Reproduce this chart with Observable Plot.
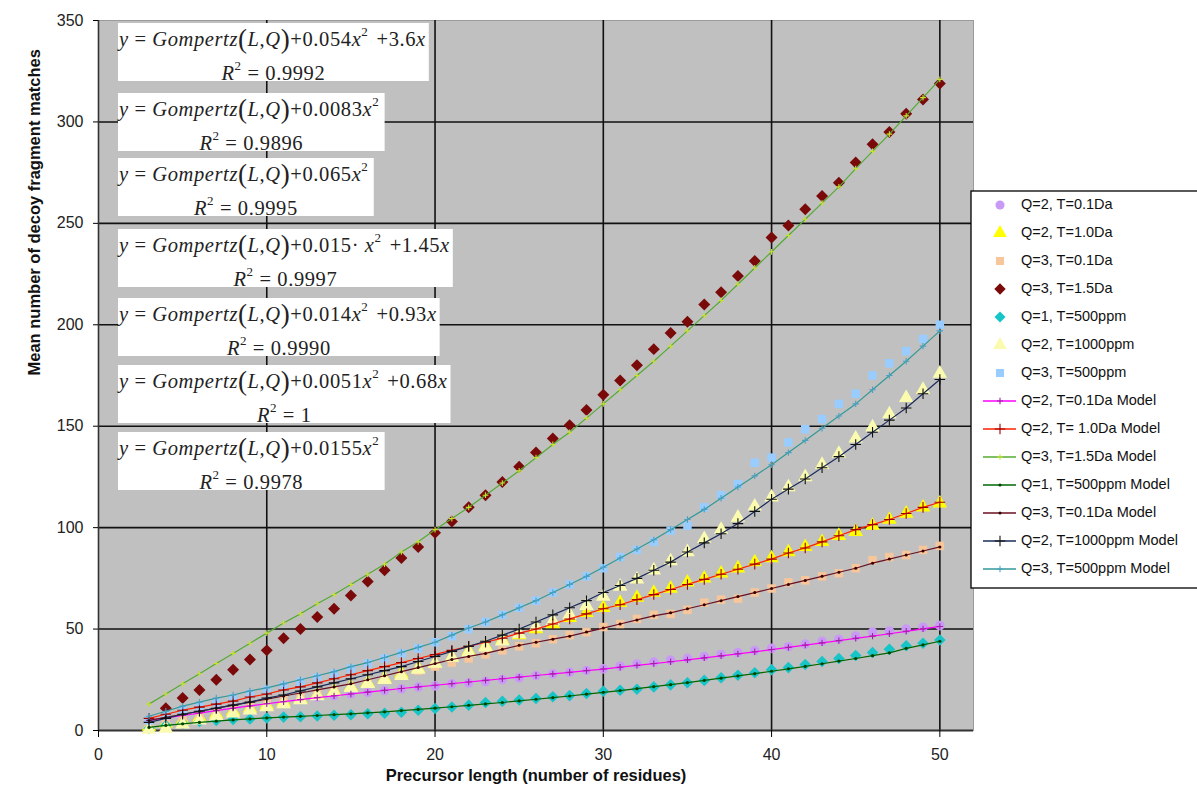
<!DOCTYPE html>
<html><head><meta charset="utf-8">
<script src="https://cdn.jsdelivr.net/npm/d3@7"></script>
<script src="https://cdn.jsdelivr.net/npm/@observablehq/plot@0.6"></script>
<style>
body{margin:0;background:#fff;}
#chart{position:relative;width:1197px;height:793px;overflow:hidden;}
</style>
</head><body><div id="chart"></div>
<script>
// ---------- DATA ----------
const lengths = [3,4,5,6,7,8,9,10,11,12,13,14,15,16,17,18,19,20,21,22,23,24,25,26,27,28,29,30,31,32,33,34,35,36,37,38,39,40,41,42,43,44,45,46,47,48,49,50];
const xTicks = [0,10,20,30,40,50];
const yTicks = [0,50,100,150,200,250,300,350];

// observed series (markers)
const obsQ2T01Da = [4,5.5,7,8.3,9.6,11,12.3,13.5,14.6,15.6,16.4,17.2,18.1,18.8,19.7,20.5,21.4,22,23,23.4,24.1,25.1,26,27.1,27.9,28.7,29.6,30.4,31.7,32.8,33.7,34.7,35.6,36.5,37.5,38.4,39.4,40.5,41.3,42.6,44,45,46.5,48.5,49,50,50.9,51.7];
const obsQ2T10Da = [2,3.5,5,6.5,8,9.5,11,12.5,14,15.5,17.5,19.5,21.5,23.5,25.5,28,30.5,33,36,39,41.5,44.5,47,50,52.5,55.5,58,60.5,63,65.5,68,70,73,75,77.5,80,83,85,88,90.5,93,96,98,101,104,107,110,112];
const obsQ3T01Da = [3,4.5,6,7.5,9,10.5,12,13.5,15,16.5,18,19.5,21,23,25,27,29.5,31.5,33.5,35.5,37.5,39.5,41.5,43,45,47,48.5,51,52.5,55,57,57.5,59.5,63,64.5,65,68,70,73,74,76,77.5,80,84,85.5,86.5,89,91];
const obsQ3T15Da = [null,11,16,20,25,30,35,39.5,45.5,50,56,60,66.5,73.5,79,85,90.5,97.5,103,110,116,122.5,130,137,144,150.5,158,165.5,172.5,180,188,196,201.5,210,216,224,231.5,243,249,257,263.5,270,280,289,295,304,311,319];
const obsQ1T500ppm = [1,2.5,3.5,4.5,5,5.4,5.7,6.2,6.6,6.8,7.1,7.5,7.8,8.3,8.5,9,10,10.8,11.6,12.5,13.8,14.4,15,15.8,16.6,17.2,18.2,19.3,19.8,20.3,21.5,22.5,23.5,24.7,26,27.2,28.5,30,31,32.5,34,35.5,37,38.5,40,41.8,43,44.6];
const obsQ2T1000ppm = [0.5,1,3,5,7,8.5,10,11.5,13,15,17,19,21,23,25,27,30,33,36,38.5,41,44,47.5,51,54,57,61.5,66,71,74.5,79,83.5,88,94.5,99,105,110.5,115,120,125,131,136.5,144,149.5,156,164,168,176];
const obsQ3T500ppm = [5,7.5,10,12,14,16,18,20,22,24,26,28,30.5,33,35.5,38,40.5,43.5,46.5,50,53.5,57,60.5,64,68,72,76,80,85.5,89,93,98.5,101,110,116,121.5,132,134.5,142,148.5,153.5,161,166,175,181,187,193,200];

// model series (lines)
const modQ2T01Da = [5,6.2,7.4,8.6,9.8,11,12.1,13.2,14.2,15.2,16.2,17.1,18,18.9,19.8,20.7,21.5,22.3,23.1,23.9,24.7,25.5,26.3,27.1,27.9,28.7,29.5,30.3,31.2,32.1,33,33.9,34.8,35.8,36.8,37.8,38.8,39.9,41,42.1,43.2,44.3,45.4,46.5,47.7,48.9,50.1,51.3];
const modQ2T10Da = [6,8,10,11.5,13,14.5,16.5,18,20,21.5,23.5,25.5,27.5,29.5,31.5,33.5,35.5,37.5,39.5,41.5,43.5,45.5,48,50,52.5,55,57.5,60,62,64.5,67,69.5,72,74.5,77,79.5,82,84.5,87.5,90,93,96,99,101.5,104,107,110,112.5];
const modQ3T15Da = [13,18,23,28,33,38,43,48,53,57.5,62.5,67,72,77,82,88,93,99,104.5,110,116,122,128,134.5,141,147,154,161,168,175,182,189.5,197,204.5,212,220,228,236,244,252,260,268,277,285.5,294,303,312,321];
const modQ1T500ppm = [1.5,2.5,3.3,4,4.6,5.2,5.7,6.2,6.6,7,7.4,7.8,8.2,8.7,9.2,9.8,10.4,11,11.7,12.4,13.1,13.8,14.6,15.4,16.2,17,17.9,18.8,19.7,20.6,21.6,22.6,23.6,24.7,25.8,26.9,28,29.2,30.4,31.6,32.9,34.2,35.5,36.9,38.3,40.5,42.2,44];
const modQ3T01Da = [5,6.5,8,9.5,11,12.5,14,15.5,17,18.5,20,21.5,23,25,27,29,31,33,35,36.5,38,40,42,43.5,45,46.5,48.5,50.5,52.5,54.5,56.5,58,60,62,64,66,68,70,72,74,76,78,80,82.5,84.5,86.5,88.5,90.5];
const modQ2T1000ppm = [4,6,8,9.5,11,12.5,14,16,17.5,19.5,21.5,23.5,25.5,27.5,29.5,31.5,34,36.5,39,41.5,44,47,50,53.5,57,60.5,64,68,71.5,75,79,83,88,92.5,97,102,108,114,119,124,129.5,135,141,147,153,159,166,173];
const modQ3T500ppm = [7,9.5,12,14,16,17.5,19.5,21,23,25,27,29,31.5,33.5,36,38.5,41,43.5,47,50.5,53.5,57,60.5,64,68,72,76,80.5,85,89.5,94,99,104,109,114.5,120,125.5,131,137,143,149,155,161,168,175,182,189.5,197];

const obsNames = ["Q=2, T=0.1Da","Q=2, T=1.0Da","Q=3, T=0.1Da","Q=3, T=1.5Da","Q=1, T=500ppm","Q=2, T=1000ppm","Q=3, T=500ppm"];
const modelNames = ["Q=2, T=0.1Da Model","Q=2, T= 1.0Da Model","Q=3, T=1.5Da Model","Q=1, T=500ppm Model","Q=3, T=0.1Da Model","Q=2, T=1000ppm Model","Q=3, T=500ppm Model"];
const obsValues = [obsQ2T01Da,obsQ2T10Da,obsQ3T01Da,obsQ3T15Da,obsQ1T500ppm,obsQ2T1000ppm,obsQ3T500ppm];
const modelValues = [modQ2T01Da,modQ2T10Da,modQ3T15Da,modQ1T500ppm,modQ3T01Da,modQ2T1000ppm,modQ3T500ppm];

// equation annotations
const eqSuffix = ["+0.054x^2 +3.6x","+0.0083x^2","+0.065x^2","+0.015· x^2 +1.45x","+0.014x^2 +0.93x","+0.0051x^2 +0.68x","+0.0155x^2"];
const eqR2 = ["0.9992","0.9896","0.9995","0.9997","0.9990","1","0.9978"];

const xLabel = "Precursor length (number of residues)";
const yLabel = "Mean number of decoy fragment matches";

// ---------- STYLE ----------
const obsStyle = [
  {symbol:"circle",   fill:"#c99af5", r:4.8},
  {symbol:"triangle", fill:"#ffff00", r:5.4},
  {symbol:"square",   fill:"#f7c69a", r:4.8},
  {symbol:"diamond2", fill:"#7a0a0a", r:5.4},
  {symbol:"diamond2", fill:"#17c4c8", r:5.2},
  {symbol:"triangle", fill:"#fbfbb0", r:5.4},
  {symbol:"square",   fill:"#99ccff", r:4.8}
];
const modelStyle = [
  {stroke:"#ff00ff", mark:"plus",  mstroke:"#a020a0", mr:2.2},
  {stroke:"#ff2000", mark:"plus",  mstroke:"#a00000", mr:3.5},
  {stroke:"#55aa33", mark:"plus",  mstroke:"#c8e030", mr:2.0},
  {stroke:"#006600", mark:"circle",mstroke:"#004400", mr:1.6},
  {stroke:"#6a1020", mark:"circle",mstroke:"#300000", mr:1.5},
  {stroke:"#1a2a5a", mark:"plus",  mstroke:"#111111", mr:3.5},
  {stroke:"#339999", mark:"plus",  mstroke:"#4aa0c0", mr:2.2}
];

// ---------- TABLES ----------
function toRows(vals){ return lengths.map((x,i)=>({x, y: vals[i]})).filter(d=>d.y!=null); }
const obsRows = obsValues.map(toRows);
const modelRows = modelValues.map(toRows);

const marks = [
  Plot.frame({fill:"#c0c0c0", stroke:"#9a9a9a"}),
  Plot.ruleX(xTicks.filter(t=>t>0), {stroke:"#111", strokeWidth:1.6}),
  Plot.ruleY(yTicks.filter(t=>t>0 && t<350), {stroke:"#111", strokeWidth:1.6}),
  Plot.ruleX([0], {stroke:"#333", strokeWidth:1.6}),
  Plot.ruleY([0], {stroke:"#333", strokeWidth:1.8}),
  Plot.axisX(xTicks, {tickSize:7, tickPadding:11, fontSize:16, fill:"#222", label:null}),
  Plot.axisY(yTicks, {tickSize:5, tickPadding:10, fontSize:16, fill:"#222", label:null}),
  Plot.text([xLabel], {frameAnchor:"bottom", dy:50, fontSize:16.5, fontWeight:"bold", fill:"#111"}),
  Plot.text([yLabel], {frameAnchor:"left", dx:-64, rotate:-90, fontSize:16.5, fontWeight:"bold", fill:"#111"})
];
obsRows.forEach((rows,i)=>{
  const s = obsStyle[i];
  marks.push(Plot.dot(rows, {x:"x", y:"y", symbol:s.symbol, r:s.r, fill:s.fill, stroke:"none"}));
});
modelRows.forEach((rows,i)=>{
  const s = modelStyle[i];
  marks.push(Plot.line(rows, {x:"x", y:"y", stroke:s.stroke, strokeWidth:1.2}));
  if (s.mark === "plus") marks.push(Plot.dot(rows, {x:"x", y:"y", symbol:"plus", r:s.mr, stroke:s.mstroke, strokeWidth:1.1}));
  else marks.push(Plot.dot(rows, {x:"x", y:"y", r:s.mr, fill:s.mstroke, stroke:"none"}));
});

const chart = Plot.plot({
  width:1197, height:793,
  marginLeft:98, marginRight:224, marginTop:20, marginBottom:63,
  x:{domain:[0,52]},
  y:{domain:[0,350]},
  style:{fontFamily:"'Liberation Sans', Arial, sans-serif", background:"#fff", overflow:"visible"},
  marks
});
document.getElementById("chart").appendChild(chart);

// ---------- ANNOTATIONS (equation boxes) ----------
const svg = d3.select(chart);
const eqLayout = {left:118, tops:[23,93,158,229,298,365,432], height:58, line1:18, line2:52};
const eqG = svg.append("g").attr("font-family","'Liberation Serif','Times New Roman',serif").attr("font-size",20.5).attr("fill","#222").attr("text-anchor","start");
eqSuffix.forEach((suf,i)=>{
  const top = eqLayout.tops[i];
  const g = eqG.append("g");
  const rect = g.append("rect").attr("x",eqLayout.left).attr("y",top).attr("height",eqLayout.height).attr("fill","#fff");
  const t = g.append("text").attr("x",eqLayout.left+1).attr("y",top+eqLayout.line1).attr("dominant-baseline","middle").attr("text-anchor","start").attr("letter-spacing",0.6);
  t.append("tspan").attr("font-style","italic").text("y");
  t.append("tspan").text(" = ");
  t.append("tspan").attr("font-style","italic").text("Gompertz");
  t.append("tspan").attr("font-size",27).attr("dy",1).text("(");
  t.append("tspan").attr("font-style","italic").attr("dy",-1).text("L");
  t.append("tspan").text(",");
  t.append("tspan").attr("font-style","italic").text("Q");
  t.append("tspan").attr("font-size",27).attr("dy",1).text(")");
  let buf = "";
  const parts = [];
  for (let k=0;k<suf.length;k++){
    const c = suf[k];
    if (c==="x"){ if(buf){parts.push({t:buf});buf="";} parts.push({t:"x",it:true}); }
    else if (c==="^"){ if(buf){parts.push({t:buf});buf="";} parts.push({t:suf[k+1],sup:true}); k++; }
    else buf += c;
  }
  if (buf) parts.push({t:buf});
  let first = true;
  parts.forEach(p=>{
    const ts = t.append("tspan").text(p.t);
    if (first){ ts.attr("dy",-1); first=false; }
    if (p.it) ts.attr("font-style","italic");
    if (p.sup){ ts.attr("font-size",13).attr("dy",-8); t.append("tspan").attr("dy",8).text("\u200a"); }
  });
  const w = t.node().getComputedTextLength();
  rect.attr("width", w + 4);
  const r = g.append("text").attr("x",eqLayout.left + (w+4)/2).attr("y",top+eqLayout.line2).attr("text-anchor","middle").attr("dominant-baseline","middle").attr("letter-spacing",0.6);
  r.append("tspan").attr("font-style","italic").text("R");
  r.append("tspan").attr("font-size",13).attr("dy",-8).text("2");
  r.append("tspan").attr("dy",8).text(" = " + eqR2[i]);
});

// ---------- LEGEND ----------
const leg = {x:971, y:191, w:240, h:397, row0:205, step:28, mx:1000, tx:1021};
const lg = svg.append("g").attr("font-family","'Liberation Sans', Arial, sans-serif").attr("font-size",14.5).attr("fill","#111").attr("text-anchor","start");
lg.append("rect").attr("x",leg.x).attr("y",leg.y).attr("width",leg.w).attr("height",leg.h).attr("fill","#fff").attr("stroke","#000").attr("stroke-width",1.3);
const symMap = {circle:d3.symbolCircle, triangle:d3.symbolTriangle, square:d3.symbolSquare, diamond2:d3.symbolDiamond2};
const allNames = obsNames.concat(modelNames);
allNames.forEach((name,i)=>{
  const cy = leg.row0 + i*leg.step;
  if (i < obsNames.length){
    const s = obsStyle[i];
    const size = Math.PI * s.r * s.r * 0.9;
    lg.append("path").attr("d", d3.symbol(symMap[s.symbol], size)()).attr("transform",`translate(${leg.mx},${cy})`).attr("fill",s.fill);
  } else {
    const s = modelStyle[i-obsNames.length];
    lg.append("line").attr("x1",983).attr("x2",1016).attr("y1",cy).attr("y2",cy).attr("stroke",s.stroke).attr("stroke-width",1.3);
    if (s.mark==="plus") lg.append("path").attr("d", d3.symbol(d3.symbolPlus, Math.PI*s.mr*s.mr)()).attr("transform",`translate(${leg.mx},${cy})`).attr("fill","none").attr("stroke",s.mstroke).attr("stroke-width",1.1);
    else lg.append("circle").attr("cx",leg.mx).attr("cy",cy).attr("r",s.mr).attr("fill",s.mstroke);
  }
  lg.append("text").attr("x",leg.tx).attr("y",cy).attr("dominant-baseline","middle").attr("text-anchor","start").text(name);
});
</script>
</body></html>
